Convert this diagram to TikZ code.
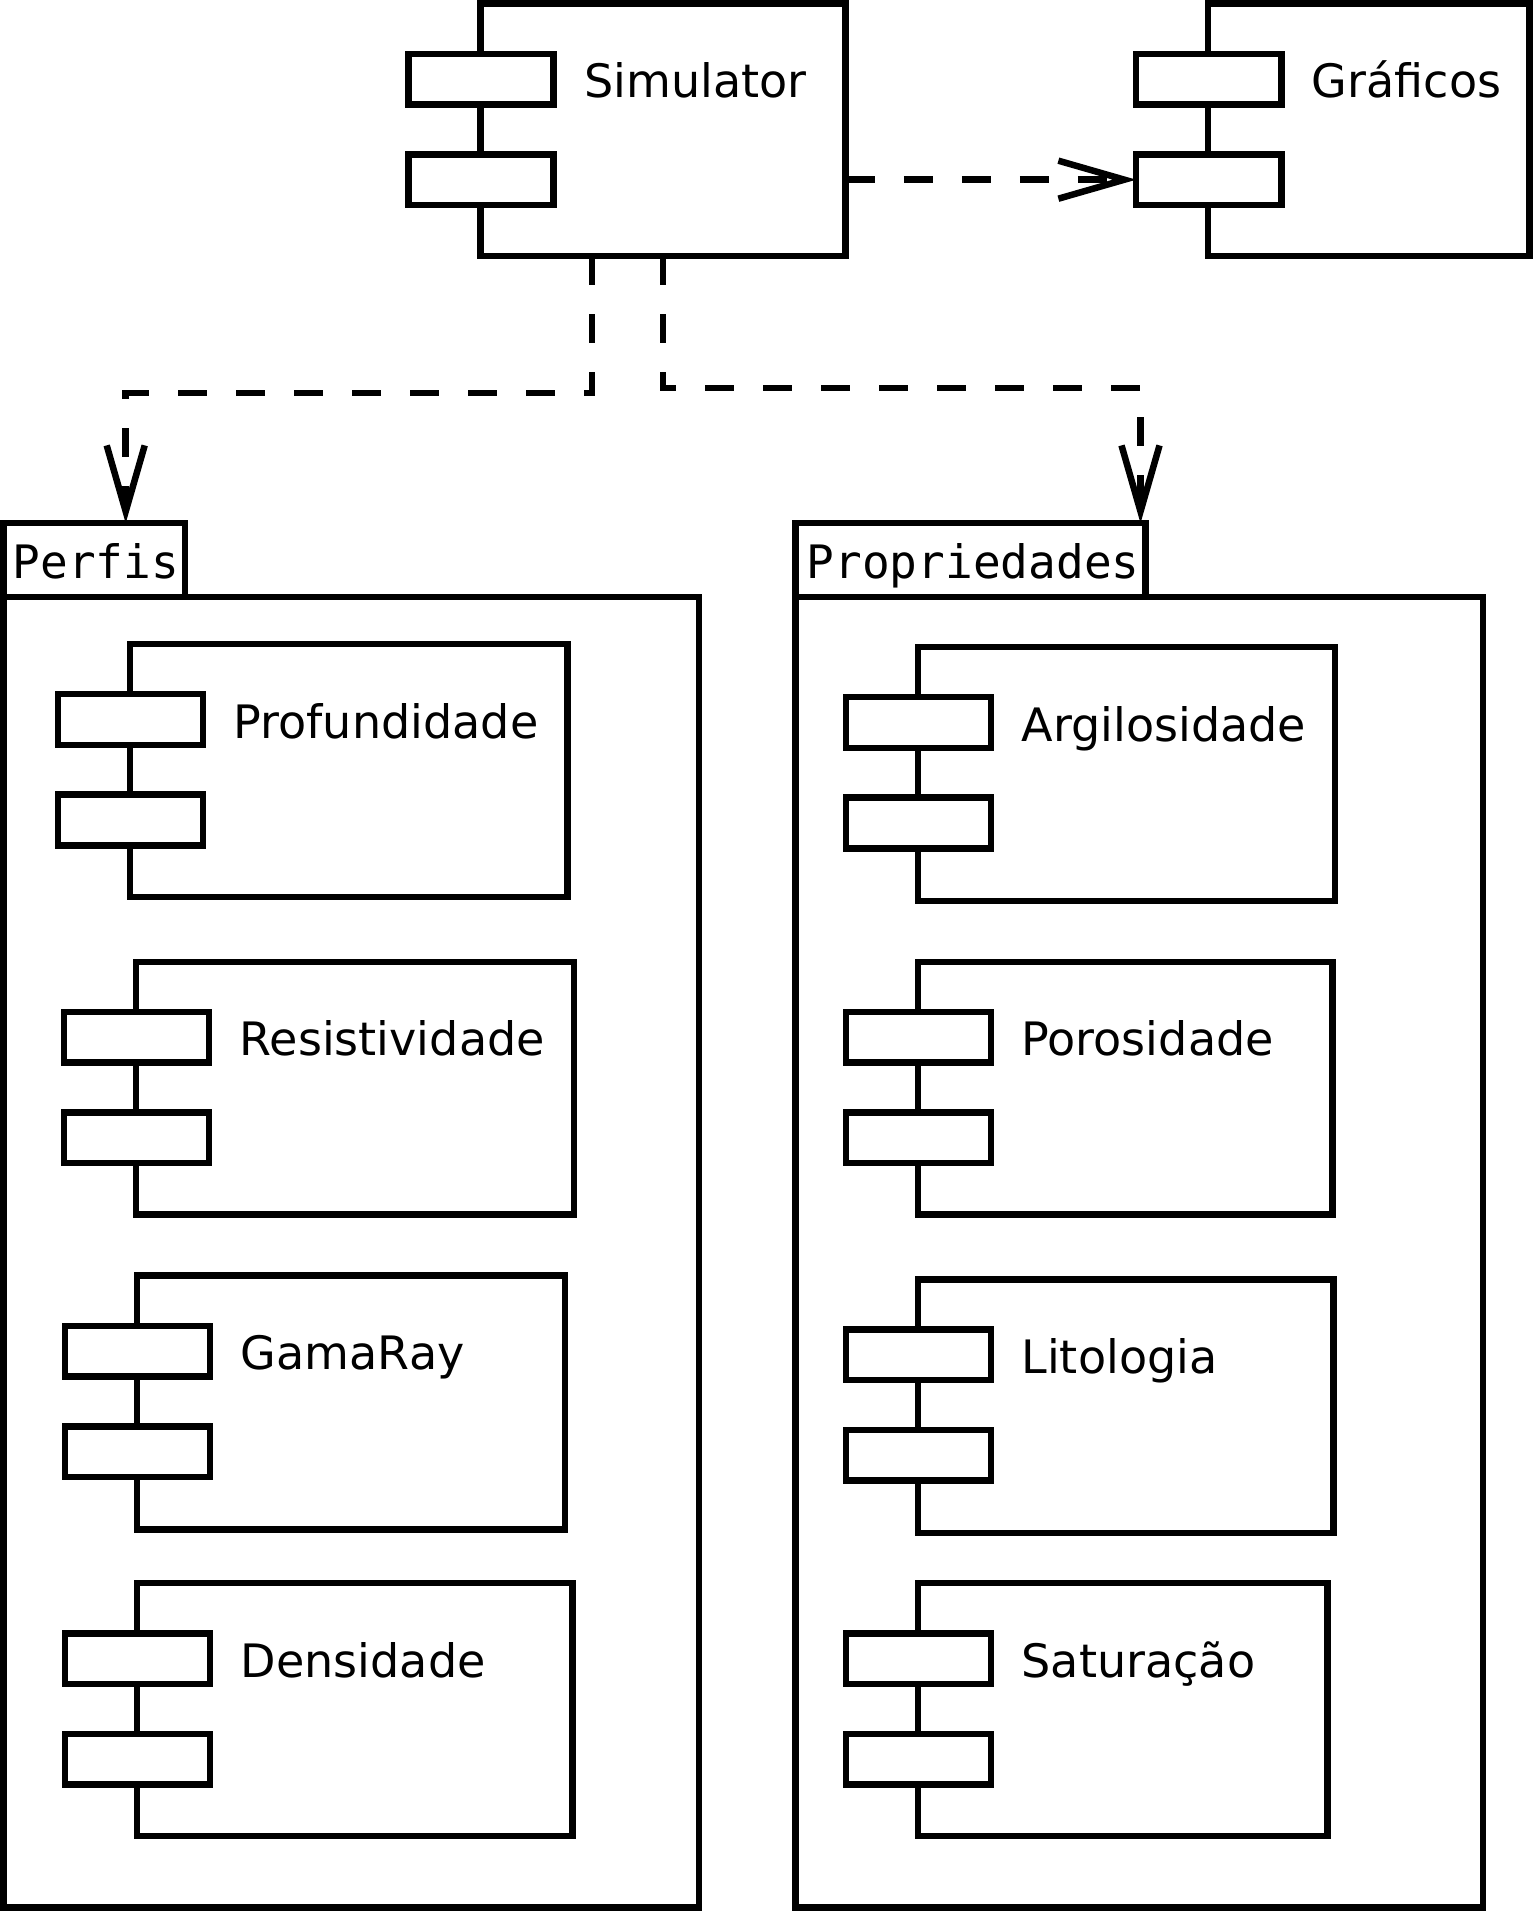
\documentclass[tikz,border=0pt]{standalone}
\usepackage{fontspec}
\setmainfont{DejaVu Sans}
\newfontfamily\monof{DejaVu Sans Mono}
\usetikzlibrary{calc,arrows.meta}
\tikzset{
  base line/.style={line width=0.065cm},
  compbox/.style={base line, draw, fill=white, inner sep=0pt, outer sep=0pt, anchor=north west},
  portbox/.style={base line, draw, fill=white, inner sep=0pt, outer sep=0pt, minimum width=1.45cm, minimum height=0.505cm},
  complabel/.style={anchor=base west, inner sep=0pt, font=\fontsize{13.1pt}{16pt}\selectfont},
  tablabel/.style={anchor=base west, inner sep=0pt, font=\monof\fontsize{13.1pt}{16pt}\selectfont},
  pkgbox/.style={base line, draw, fill=white, inner sep=0pt, outer sep=0pt, anchor=north west},
  dep/.style={base line, dash pattern=on 0.29cm off 0.29cm, -{Straight Barb[length=0.66cm, width=0.38cm]}}
}
\newcommand\mycomp[6]{%
  \node[compbox, minimum width=#4cm, minimum height=#5cm] (#1) at (#2,#3) {};
  \node[portbox] (#1p1) at ($(#1.north west)+(0.5,75.5)$) {};
  \node[portbox] (#1p2) at ($(#1.north west)+(0.5,176)$) {};
  \node[complabel] (#1t) at ($(#1.north west)+(103,94)$) {#6};
}
\begin{document}
\begin{tikzpicture}[x=0.01cm, y=-0.01cm]
\useasboundingbox (0,0) rectangle (1533,1922);
% packages
\node[pkgbox, minimum width=6.948cm, minimum height=13.099cm] (perfis) at (3.7,596.8) {};
\node[pkgbox, minimum width=1.813cm, minimum height=0.736cm] (ptab) at (3.7,523.2) {};
\node[tablabel] (ptabt) at (12,578) {Perfis};
\node[pkgbox, minimum width=6.874cm, minimum height=13.099cm] (props) at (795.3,596.8) {};
\node[pkgbox, minimum width=3.50cm, minimum height=0.736cm] (qtab) at (795.3,523.2) {};
\node[tablabel] (qtabt) at (806,578) {Propriedades};
% components
\mycomp{sim}{480.4}{3.7}{3.651}{2.524}{Simulator}
\mycomp{graf}{1208.2}{3.7}{3.211}{2.524}{Gráficos}
\mycomp{prof}{129.9}{644}{4.375}{2.53}{Profundidade}
\mycomp{resi}{136}{961.9}{4.375}{2.525}{Resistividade}
\mycomp{gama}{137.2}{1275.6}{4.277}{2.537}{GamaRay}
\mycomp{dens}{137.2}{1583.2}{4.351}{2.524}{Densidade}
\mycomp{argi}{917.8}{647}{4.167}{2.537}{Argilosidade}
\mycomp{poro}{917.8}{961.9}{4.142}{2.525}{Porosidade}
\mycomp{lito}{917.8}{1279.3}{4.154}{2.537}{Litologia}
\mycomp{satu}{917.8}{1583.2}{4.093}{2.524}{Saturação}
% dependencies
\draw[dep] (sim.east |- simp2.center) -- (grafp2.west);
\draw[dep] ($(sim.south)+(-71,0)$) -- ++(0,137) -| ($(ptab.north west)+(122,0)$);
\draw[dep] (sim.south) -- ++(0,132) -| ($(qtab.north east)+(-5,0)$);
\end{tikzpicture}
\end{document}
